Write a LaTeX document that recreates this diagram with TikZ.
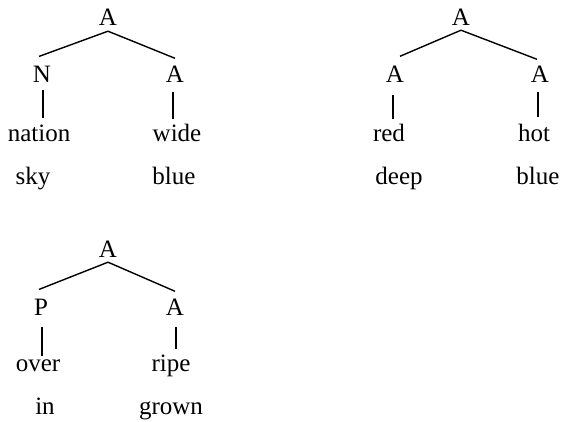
\documentclass[tikz,border=0pt]{standalone}
\usepackage{fontspec}
\setmainfont{Liberation Serif}
\begin{document}
\begin{tikzpicture}[x=1pt,y=-1pt,
  lbl/.style={inner sep=0pt,anchor=base,font=\fontsize{25}{30}\selectfont},
  branch/.style={line width=1.4pt}]
\useasboundingbox (0,0) rectangle (563,422);
% tree 1
\node[lbl] (t1) at (108,26) {A};
\node[lbl] (t1l) at (42,83) {N};
\node[lbl] (t1r) at (175,83) {A};
\node[lbl] (t1lw) at (39,142) {nation};
\node[lbl] (t1rw) at (177,142) {wide};
\node[lbl] (t1lw2) at (33,185) {sky};
\node[lbl] (t1rw2) at (174,185) {blue};
\draw[branch] ([yshift=-5pt]t1.south) -- ([xshift=-3pt,yshift=10pt]t1l.north);
\draw[branch] ([yshift=-5pt]t1.south) -- ([yshift=8pt]t1r.north);
\draw[branch] ([xshift=1pt,yshift=-7pt]t1l.south) -- ([xshift=4pt,yshift=7pt]t1lw.north);
\draw[branch] ([xshift=-2pt,yshift=-9pt]t1r.south) -- ([xshift=-4pt,yshift=5pt]t1rw.north);
% tree 2
\node[lbl] (t2) at (461,26) {A};
\node[lbl] (t2l) at (395,83) {A};
\node[lbl] (t2r) at (540,83) {A};
\node[lbl] (t2lw) at (389,142) {red};
\node[lbl] (t2rw) at (534,142) {hot};
\node[lbl] (t2lw2) at (399,185) {deep};
\node[lbl] (t2rw2) at (538,185) {blue};
\draw[branch] ([yshift=-4pt]t2.south) -- ([xshift=5pt,yshift=10pt]t2l.north);
\draw[branch] ([yshift=-4pt]t2.south) -- ([xshift=-3pt,yshift=7pt]t2r.north);
\draw[branch] ([xshift=-2pt,yshift=-12pt]t2l.south) -- ([xshift=4pt,yshift=5pt]t2lw.north);
\draw[branch] ([xshift=-2pt,yshift=-9pt]t2r.south) -- ([xshift=4pt,yshift=7pt]t2rw.north);
% tree 3
\node[lbl] (t3) at (108,258) {A};
\node[lbl] (t3l) at (41,316) {P};
\node[lbl] (t3r) at (175,316) {A};
\node[lbl] (t3lw) at (38,372) {over};
\node[lbl] (t3rw) at (171,372) {ripe};
\node[lbl] (t3lw2) at (45,415) {in};
\node[lbl] (t3rw2) at (171,415) {grown};
\draw[branch] ([yshift=-4pt]t3.south) -- ([xshift=-2pt,yshift=10pt]t3l.north);
\draw[branch] ([yshift=-4pt]t3.south) -- ([yshift=8pt]t3r.north);
\draw[branch] ([xshift=1pt,yshift=-11pt]t3l.south) -- ([xshift=4pt,yshift=4pt]t3lw.north);
\draw[branch] ([xshift=1pt,yshift=-11pt]t3r.south) -- ([xshift=5pt,yshift=6pt]t3rw.north);
\end{tikzpicture}
\end{document}
